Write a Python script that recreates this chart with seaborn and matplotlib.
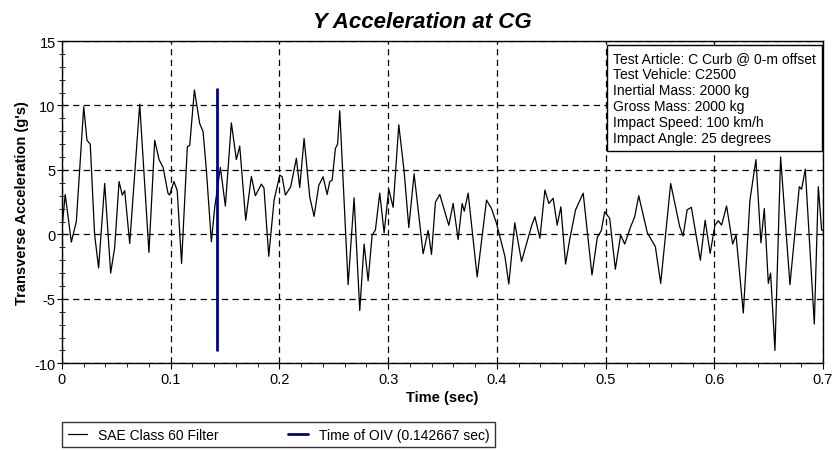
import numpy as np
import pandas as pd
import seaborn as sns
import matplotlib
matplotlib.use("Agg")
import matplotlib.pyplot as plt
from matplotlib.ticker import MultipleLocator, FuncFormatter

time_s = [0.000, 0.003, 0.0086, 0.0132, 0.020, 0.023, 0.026, 0.030, 0.0337, 0.0393,
          0.0448, 0.0485, 0.0525, 0.0555, 0.0577, 0.0623, 0.0715, 0.080, 0.0853, 0.0893,
          0.093, 0.0975, 0.099, 0.103, 0.106, 0.110, 0.1153, 0.1175, 0.1218, 0.1267,
          0.1298, 0.1328, 0.1374, 0.1405, 0.1457, 0.1503, 0.1558, 0.1604, 0.1635, 0.169,
          0.1742, 0.1779, 0.1834, 0.1858, 0.1902, 0.1951, 0.2003, 0.2025, 0.2055, 0.2104,
          0.2156, 0.2187, 0.2227, 0.2279, 0.2319, 0.2362, 0.2402, 0.2439, 0.2463, 0.2485,
          0.2515, 0.2535, 0.2555, 0.2632, 0.2687, 0.2739, 0.2779, 0.2816, 0.2853, 0.2883,
          0.2923, 0.2963, 0.3006, 0.3046, 0.3098, 0.3147, 0.319, 0.3239, 0.3322, 0.3368,
          0.3399, 0.3435, 0.3475, 0.3558, 0.3598, 0.3644, 0.3681, 0.370, 0.3736, 0.3819,
          0.3905, 0.3951, 0.3997, 0.4074, 0.411, 0.4165, 0.4227, 0.4319, 0.435, 0.4396,
          0.4442, 0.4478, 0.4518, 0.4555, 0.4589, 0.4632, 0.4672, 0.4724, 0.4794, 0.4875,
          0.4924, 0.4961, 0.4992, 0.5038, 0.509, 0.5139, 0.5176, 0.5231, 0.5268, 0.5305,
          0.5384, 0.5458, 0.5507, 0.5599, 0.5682, 0.5713, 0.575, 0.5789, 0.5872, 0.5916,
          0.5962, 0.6006, 0.6037, 0.6067, 0.6113, 0.6169, 0.620, 0.6267, 0.6328, 0.6383,
          0.6429, 0.646, 0.6497, 0.6518, 0.6558, 0.661, 0.6696, 0.6782, 0.6803, 0.6837,
          0.692, 0.6957, 0.6987, 0.700]
accel_g = [0.5, 3.1, -0.6, 1.0, 9.9, 7.3, 7.0, 0.0, -2.6, 3.95,
           -3.0, -1.0, 4.1, 3.05, 3.4, -0.7, 10.1, -1.4, 7.3, 5.8,
           5.2, 3.2, 3.05, 4.1, 3.4, -2.25, 6.8, 6.9, 11.2, 8.6,
           7.96, 5.0, -0.57, 2.1, 5.2, 2.2, 8.65, 5.8, 6.85, 1.1,
           4.5, 3.0, 3.9, 3.6, -1.7, 2.66, 4.6, 4.47, 3.05, 3.7,
           5.9, 3.64, 7.44, 2.9, 1.4, 3.8, 4.47, 3.1, 4.1, 4.2,
           6.67, 7.0, 9.6, -3.9, 2.84, -5.9, -0.75, -3.6, -0.05, 0.34,
           3.2, 0.13, 3.5, 2.1, 8.5, 4.9, 0.54, 4.7, -1.5, 0.3,
           -1.55, 2.5, 3.1, 0.7, 2.4, -0.4, 2.4, 1.8, 3.2, -3.3,
           2.66, 2.0, 0.85, -1.7, -3.85, 0.9, -2.1, 0.65, 1.37, -0.3,
           3.44, 2.4, 2.8, 0.72, 2.14, -2.3, -0.3, 1.9, 3.2, -3.15,
           -0.23, 0.3, 1.76, 1.24, -2.7, -0.05, -0.75, 0.6, 1.37, 3.0,
           0.13, -0.95, -3.8, 3.95, 0.6, -0.13, 1.9, 2.1, -2.0, 1.1,
           -1.47, 0.72, 1.06, 0.72, 2.2, -0.75, -0.05, -6.1, 2.66, 5.8,
           -0.65, 2.0, -3.8, -3.0, -9.0, 6.0, -3.9, 3.7, 3.5, 5.06,
           -6.95, 3.7, 0.34, 0.3]

oiv_time = 0.142667
oiv_span = [-9.0, 11.3]

info_lines = ["Test Article: C Curb @ 0-m offset",
              "Test Vehicle: C2500",
              "Inertial Mass: 2000 kg",
              "Gross Mass: 2000 kg",
              "Impact Speed: 100 km/h",
              "Impact Angle: 25 degrees"]

sns.set_style("ticks")
plt.rcParams['font.family'] = ['Liberation Sans', 'DejaVu Sans']
plt.rcParams['axes.unicode_minus'] = False
plt.rcParams['text.color'] = 'black'
plt.rcParams['axes.labelcolor'] = 'black'
plt.rcParams['xtick.color'] = 'black'
plt.rcParams['ytick.color'] = 'black'

df = pd.DataFrame({"t": time_s, "a": accel_g})
oiv = pd.DataFrame({"t": [oiv_time, oiv_time], "a": oiv_span})

fig = plt.figure(figsize=(8.33, 4.52), dpi=100)
ax = fig.add_axes([0.0744, 0.194, 0.9136, 0.713])

sns.lineplot(data=df, x="t", y="a", ax=ax, color="black", lw=0.9,
             label="SAE Class 60 Filter", legend=False)
# vertical marker: orient="y" so seaborn does not aggregate the repeated x value
sns.lineplot(data=oiv, x="t", y="a", ax=ax, color="#00008B", lw=2, orient="y",
             label="Time of OIV (0.142667 sec)", legend=False)

ax.set_xlim(0, 0.7)
ax.set_ylim(-10, 15)
ax.xaxis.set_major_locator(MultipleLocator(0.1))
ax.xaxis.set_minor_locator(MultipleLocator(0.02))
ax.xaxis.set_major_formatter(FuncFormatter(lambda v, _: f"{v:g}"))
ax.yaxis.set_major_locator(MultipleLocator(5))
ax.yaxis.set_minor_locator(MultipleLocator(1))
ax.grid(True, which="major", color="black", lw=0.9, ls=(0, (5, 3.5)))
ax.tick_params(axis="x", which="major", direction="out", length=4, labelsize=10.5, pad=2)
ax.tick_params(axis="x", which="minor", direction="out", length=3)
ax.tick_params(axis="y", which="major", direction="inout", length=7, labelsize=10.5, pad=1)
ax.tick_params(axis="y", which="minor", direction="inout", length=4)
for s in ax.spines.values():
    s.set_visible(True)
    s.set_color("black")
    s.set_linewidth(1)

ax.set_xlabel("Time (sec)", fontsize=10.5, fontweight="bold", labelpad=3)
ax.set_ylabel("Transverse Acceleration (g's)", fontsize=10.5, fontweight="bold", labelpad=4)
fig.text(422 / 833, 1 - 28 / 452, "Y Acceleration at CG", ha="center", va="baseline",
         fontsize=16, fontweight="bold", fontstyle="italic")

ax.text(0.7245, 0.968, "\n".join(info_lines), transform=ax.transAxes, ha="left", va="top",
        fontsize=10, linespacing=1.18, zorder=5,
        bbox=dict(boxstyle="square,pad=0.45", fc="white", ec="black", lw=1))

handles, labels = ax.get_legend_handles_labels()
leg = fig.legend(handles, labels, loc="upper left", bbox_to_anchor=(62 / 833, 1 - 423 / 452),
                 borderaxespad=0, ncol=2, fontsize=10, frameon=True, fancybox=False,
                 edgecolor="black", handlelength=1.4, handletextpad=0.8, columnspacing=5,
                 borderpad=0.4)
leg.get_frame().set_linewidth(1)

fig.savefig("out.png", dpi=100)
